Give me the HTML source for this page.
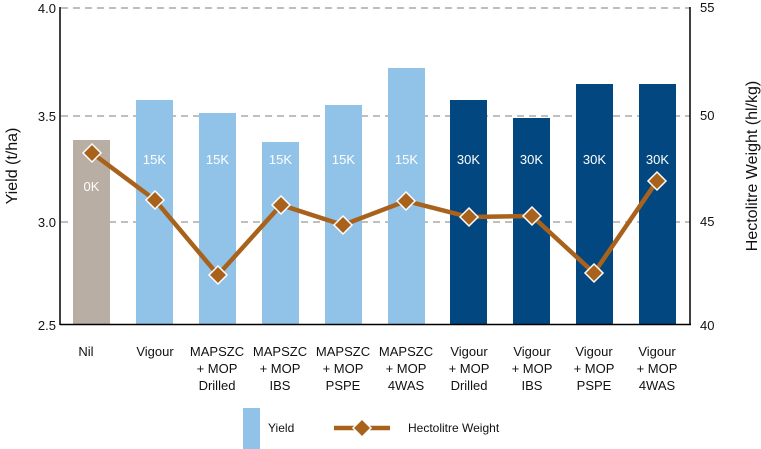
<!DOCTYPE html>
<html><head><style>body{margin:0;background:#fff}svg{display:block}text{font-family:"Liberation Sans",Arial,sans-serif}</style></head><body>
<svg width="761" height="449" xmlns="http://www.w3.org/2000/svg">
<g stroke="#aaa" stroke-width="1.5" stroke-dasharray="7,5">
<line x1="61" y1="8" x2="690" y2="8"/><line x1="61" y1="116" x2="690" y2="116"/><line x1="61" y1="222" x2="690" y2="222"/>
</g>
<g>
<rect x="73" y="140" width="37" height="184" fill="#b9aea3"/>
<rect x="136" y="100" width="37" height="224" fill="#91c3e8"/>
<rect x="199" y="113" width="37" height="211" fill="#91c3e8"/>
<rect x="262" y="142" width="37" height="182" fill="#91c3e8"/>
<rect x="325" y="105" width="37" height="219" fill="#91c3e8"/>
<rect x="388" y="68" width="37" height="256" fill="#91c3e8"/>
<rect x="450" y="100" width="37" height="224" fill="#02477f"/>
<rect x="513" y="118" width="37" height="206" fill="#02477f"/>
<rect x="576" y="84" width="37" height="240" fill="#02477f"/>
<rect x="639" y="84" width="37" height="240" fill="#02477f"/>
</g>
<g fill="#fff" font-size="13" text-anchor="middle">
<text x="91.5" y="191">0K</text><text x="154.5" y="164">15K</text><text x="217.5" y="164">15K</text><text x="280.5" y="164">15K</text><text x="343.5" y="164">15K</text><text x="406.5" y="164">15K</text><text x="468.5" y="164">30K</text><text x="531.5" y="164">30K</text><text x="594.5" y="164">30K</text><text x="657.5" y="164">30K</text>
</g>
<polyline points="92,153 155,200 218,275 281,205 343,225 406,201 469,217 532,216 594,273 657,181" fill="none" stroke="#a9621c" stroke-width="4.5"/>
<g fill="#a9621c" stroke="#fff" stroke-width="1.5">
<path d="M92,144 l9,9 -9,9 -9,-9z"/><path d="M155,191 l9,9 -9,9 -9,-9z"/><path d="M218,266 l9,9 -9,9 -9,-9z"/><path d="M281,196 l9,9 -9,9 -9,-9z"/><path d="M343,216 l9,9 -9,9 -9,-9z"/><path d="M406,192 l9,9 -9,9 -9,-9z"/><path d="M469,208 l9,9 -9,9 -9,-9z"/><path d="M532,207 l9,9 -9,9 -9,-9z"/><path d="M594,264 l9,9 -9,9 -9,-9z"/><path d="M657,172 l9,9 -9,9 -9,-9z"/>
</g>
<g stroke="#000" stroke-width="1.5" fill="none">
<line x1="60" y1="7" x2="60" y2="325"/><line x1="60" y1="324.5" x2="691" y2="324.5"/><line x1="690" y1="7" x2="690" y2="325"/>
</g>
<g font-size="13" fill="#111" text-anchor="end">
<text x="56" y="13">4.0</text><text x="56" y="121">3.5</text><text x="56" y="227">3.0</text><text x="56" y="330">2.5</text>
</g>
<g font-size="13" fill="#111">
<text x="700" y="12">55</text><text x="700" y="120">50</text><text x="700" y="226">45</text><text x="700" y="330">40</text>
</g>
<text transform="translate(17,166) rotate(-90)" font-size="16" text-anchor="middle" fill="#111">Yield (t/ha)</text>
<text transform="translate(757,166) rotate(-90)" font-size="16" text-anchor="middle" fill="#111">Hectolitre Weight (hl/kg)</text>
<g font-size="13" fill="#111" text-anchor="middle">
<text x="86" y="356">Nil</text>
<text x="155" y="356">Vigour</text>
<text x="217" y="356">MAPSZC</text><text x="217" y="373">+ MOP</text><text x="217" y="390">Drilled</text>
<text x="280" y="356">MAPSZC</text><text x="280" y="373">+ MOP</text><text x="280" y="390">IBS</text>
<text x="343" y="356">MAPSZC</text><text x="343" y="373">+ MOP</text><text x="343" y="390">PSPE</text>
<text x="406" y="356">MAPSZC</text><text x="406" y="373">+ MOP</text><text x="406" y="390">4WAS</text>
<text x="469" y="356">Vigour</text><text x="469" y="373">+ MOP</text><text x="469" y="390">Drilled</text>
<text x="532" y="356">Vigour</text><text x="532" y="373">+ MOP</text><text x="532" y="390">IBS</text>
<text x="594" y="356">Vigour</text><text x="594" y="373">+ MOP</text><text x="594" y="390">PSPE</text>
<text x="657" y="356">Vigour</text><text x="657" y="373">+ MOP</text><text x="657" y="390">4WAS</text>
</g>
<rect x="243" y="408" width="17" height="41" fill="#91c3e8"/>
<text x="268" y="432" font-size="12" fill="#111">Yield</text>
<line x1="334" y1="428" x2="390" y2="428" stroke="#a9621c" stroke-width="4.5"/>
<path d="M362,419 l9,9 -9,9 -9,-9z" fill="#a9621c" stroke="#fff" stroke-width="1.5"/>
<text x="408" y="432" font-size="12" fill="#111">Hectolitre Weight</text>
</svg>
</body></html>
